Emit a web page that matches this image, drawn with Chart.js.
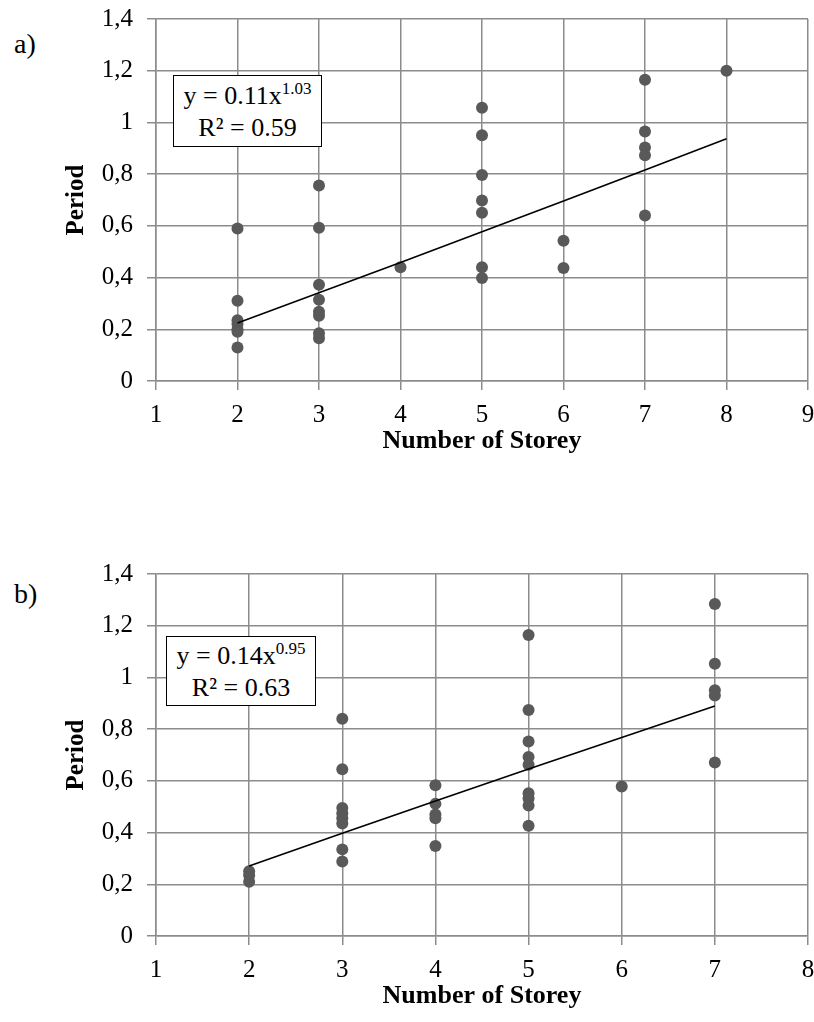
<!DOCTYPE html>
<html lang="en">
<head>
<meta charset="UTF-8" />
<title>Period vs Number of Storey</title>
<script src="https://cdn.jsdelivr.net/npm/chart.js"></script>
<style>
    body { margin: 0; background: #fff; font-family: "Liberation Serif", "Times New Roman", serif; }
    #page { position: relative; width: 814px; height: 1022px; }
    canvas { position: absolute; left: 0; }
    .tag { position: absolute; left: 14px; font-size: 28px; line-height: 28px; color: #000; }
    .eq {
        position: absolute;
        box-sizing: border-box;
        border: 1.5px solid #000;
        background: #fff;
        font-size: 26px;
        line-height: 29px;
        text-align: center;
        display: flex;
        flex-direction: column;
        justify-content: center;
        color: #000;
    }
    .eq .exp { font-size: 17px; position: relative; top: -10px; }
</style>
</head>
<body>
<div id="page">
    <div class="tag" style="top: 30px">a)</div>
    <canvas id="chartA" width="814" height="467" style="top: 0"></canvas>
    <div class="eq" style="left: 173px; top: 75px; width: 149px; height: 72px">
        <div>y = 0.11x<span class="exp">1.03</span></div>
        <div>R² = 0.59</div>
    </div>

    <div class="tag" style="top: 580px">b)</div>
    <canvas id="chartB" width="814" height="467" style="top: 555px"></canvas>
    <div class="eq" style="left: 166px; top: 636px; width: 150px; height: 70px">
        <div>y = 0.14x<span class="exp">0.95</span></div>
        <div>R² = 0.63</div>
    </div>
</div>

<script>
    // a) measured periods grouped by number of storeys
    const storeysA = [2, 3, 4, 5, 6, 7, 8]
    const periodsA = [
        [0.59, 0.31, 0.235, 0.22, 0.2, 0.19, 0.13],
        [0.756, 0.593, 0.372, 0.314, 0.268, 0.252, 0.185, 0.165],
        [0.44],
        [1.057, 0.95, 0.797, 0.698, 0.651, 0.44, 0.398],
        [0.542, 0.437],
        [1.165, 0.965, 0.903, 0.873, 0.64],
        [1.2],
    ]
    // power trendline y = a * x^b (coefficients as printed in the label)
    const fitA = { a: 0.11, b: 1.03 }

    // b)
    const storeysB = [2, 3, 4, 5, 6, 7]
    const periodsB = [
        [0.25, 0.235, 0.21],
        [0.84, 0.645, 0.495, 0.475, 0.455, 0.435, 0.335, 0.288],
        [0.583, 0.511, 0.47, 0.455, 0.348],
        [1.164, 0.874, 0.752, 0.692, 0.662, 0.552, 0.533, 0.505, 0.426],
        [0.578],
        [1.284, 1.053, 0.95, 0.93, 0.671],
    ]
    const fitB = { a: 0.14, b: 0.95 }

    const yTickLabels = ["0", "0,2", "0,4", "0,6", "0,8", "1", "1,2", "1,4"]

    Chart.defaults.font.family = '"Liberation Serif", "Times New Roman", serif'
    Chart.defaults.color = "#000"

    const gridColor = "#8c8c8c"

    function makeChart(id, storeys, periods, fit, xMax) {
        const points = []
        storeys.forEach((s, i) => {
            periods[i].forEach((p) => points.push({ x: s, y: p }))
        })
        const trend = storeys.map((s) => ({ x: s, y: fit.a * Math.pow(s, fit.b) }))

        return new Chart(document.getElementById(id), {
            type: "scatter",
            data: {
                datasets: [
                    {
                        data: trend,
                        showLine: true,
                        borderColor: "#000",
                        borderWidth: 1.6,
                        pointRadius: 0,
                        order: 0,
                    },
                    {
                        data: points,
                        backgroundColor: "#595959",
                        borderWidth: 0,
                        pointRadius: 6,
                        order: 1,
                    },
                ],
            },
            options: {
                responsive: false,
                animation: false,
                events: [],
                layout: { padding: { top: 19, right: 6, left: 0, bottom: 0 } },
                plugins: { legend: { display: false }, tooltip: { enabled: false } },
                scales: {
                    x: {
                        type: "linear",
                        min: 1,
                        max: xMax,
                        ticks: { stepSize: 1, font: { size: 25 }, padding: 10 },
                        grid: { color: gridColor, lineWidth: 1.5, tickLength: 9 },
                        border: { color: gridColor, width: 1.5 },
                        title: {
                            display: true,
                            text: "Number of Storey",
                            font: { size: 26, weight: "bold" },
                            padding: { top: 0, bottom: 10 },
                        },
                        afterFit(scale) {
                            scale.height = 86
                            // let the layout padding alone decide the plot edges
                            scale.paddingLeft = 0
                            scale.paddingRight = 0
                        },
                    },
                    y: {
                        min: 0,
                        max: 1.4,
                        ticks: {
                            stepSize: 0.2,
                            font: { size: 25 },
                            padding: 14,
                            callback: (v) => yTickLabels[Math.round(v * 5)],
                        },
                        grid: { color: gridColor, lineWidth: 1.5, tickLength: 9 },
                        border: { color: gridColor, width: 1.5 },
                        title: {
                            display: true,
                            text: "Period",
                            font: { size: 25, weight: "bold" },
                            padding: { top: 62, bottom: 0 },
                        },
                        afterFit(scale) {
                            scale.width = 156
                            scale.paddingTop = 0
                            scale.paddingBottom = 0
                        },
                    },
                },
            },
        })
    }

    makeChart("chartA", storeysA, periodsA, fitA, 9)
    makeChart("chartB", storeysB, periodsB, fitB, 8)
</script>
</body>
</html>
